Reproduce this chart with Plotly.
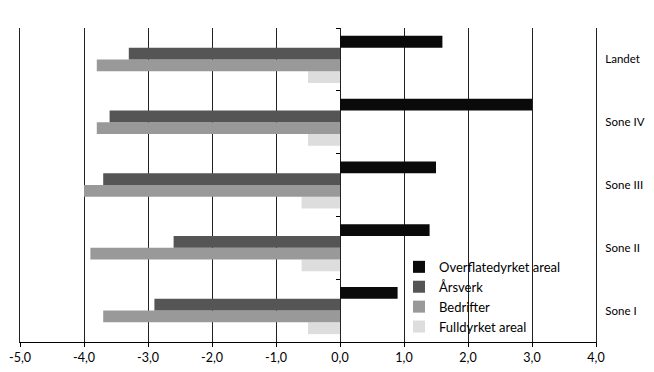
import plotly.graph_objects as go

categories = ["Sone I", "Sone II", "Sone III", "Sone IV", "Landet"]
overflatedyrket = [0.9, 1.4, 1.5, 3.0, 1.6]
arsverk = [-2.9, -2.6, -3.7, -3.6, -3.3]
bedrifter = [-3.7, -3.9, -4.0, -3.8, -3.8]
fulldyrket = [-0.5, -0.6, -0.6, -0.5, -0.5]

series_names = ["Fulldyrket areal", "Bedrifter", "Årsverk", "Overflatedyrket areal"]
series_values = [fulldyrket, bedrifter, arsverk, overflatedyrket]
series_colors = ["#dddddd", "#999999", "#555555", "#0a0a0a"]

x_tickvals = [-5, -4, -3, -2, -1, 0, 1, 2, 3, 4]
x_ticktext = ["-5,0", "-4,0", "-3,0", "-2,0", "-1,0", "0,0", "1,0", "2,0", "3,0", "4,0"]

FONT = "Lato, sans-serif"

fig = go.Figure()
for name, vals, col in zip(series_names, series_values, series_colors):
    fig.add_trace(go.Bar(
        y=categories, x=vals, name=name, orientation="h",
        marker=dict(color=col, line=dict(width=0)),
    ))

# invisible trace to draw category-boundary ticks on the zero line
fig.add_trace(go.Scatter(x=[0, 0], y=[-0.5, 4.5], yaxis="y2", mode="lines",
                         line=dict(width=0), showlegend=False, hoverinfo="skip"))

xmin, xmax = -5, 4
fig.update_layout(
    width=638, height=356,
    margin=dict(l=12, r=50, t=20, b=22),
    paper_bgcolor="white", plot_bgcolor="white",
    barmode="group", bargap=0.25, bargroupgap=0,
    font=dict(family=FONT, size=13, color="#000000"),
    xaxis=dict(
        range=[xmin, xmax], tickvals=x_tickvals, ticktext=x_ticktext,
        showgrid=True, gridcolor="#222222", gridwidth=1,
        zeroline=False, showline=True, linecolor="#000000", linewidth=1,
        ticks="outside", ticklen=4, tickcolor="#000000",
        tickfont=dict(family=FONT, size=12.5), automargin=False,
    ),
    yaxis=dict(
        type="category", range=[-0.5, 4.5], side="right",
        showgrid=False, zeroline=False, showline=True, mirror=True,
        linecolor="#222222", linewidth=1,
        ticks="", ticklabelstandoff=6, automargin=False,
        tickfont=dict(family=FONT, size=11.5),
    ),
    yaxis2=dict(
        overlaying="y", anchor="free", position=(0 - xmin) / (xmax - xmin),
        range=[-0.5, 4.5], tickvals=[-0.5, 0.5, 1.5, 2.5, 3.5, 4.5],
        showticklabels=False, ticks="outside", ticklen=4, tickcolor="#000000",
        showline=False, showgrid=False, zeroline=False, side="left",
        automargin=False,
    ),
    legend=dict(
        x=0.658, y=0.287, xanchor="left", yanchor="top",
        traceorder="reversed", bgcolor="rgba(0,0,0,0)",
        font=dict(family=FONT, size=13), itemwidth=30,
        tracegroupgap=0,
    ),
    showlegend=True,
)

fig.write_html("out.html")
